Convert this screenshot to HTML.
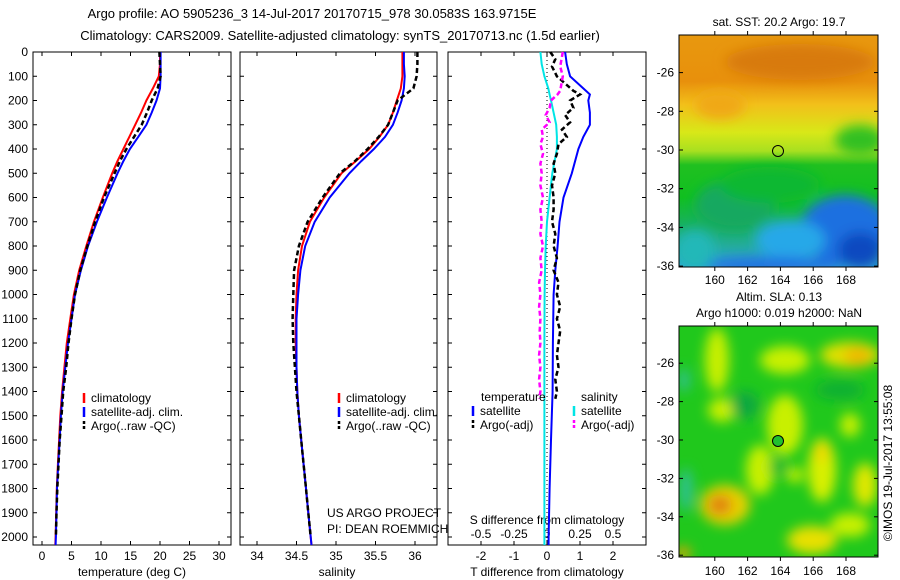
<!DOCTYPE html>
<html><head><meta charset="utf-8"><style>
body{margin:0;background:#fff;}
svg{display:block;font-family:"Liberation Sans",sans-serif;}
text{fill:#000;}
</style></head><body>
<svg id="fig" width="900" height="580" viewBox="0 0 900 580">
<defs>
<filter id="blur1" x="-20%" y="-20%" width="140%" height="140%"><feGaussianBlur stdDeviation="6"/></filter>
<filter id="blur2" x="-30%" y="-30%" width="160%" height="160%"><feGaussianBlur stdDeviation="6"/></filter>
<clipPath id="clipMap1"><rect x="679" y="35" width="199" height="232"/></clipPath>
<clipPath id="clipMap2"><rect x="679" y="326" width="199" height="231"/></clipPath>
<linearGradient id="sstGrad" x1="0" y1="0" x2="0" y2="1">
<stop offset="0" stop-color="#e8980e"/><stop offset="0.2" stop-color="#e8900c"/>
<stop offset="0.3" stop-color="#f2c01a"/><stop offset="0.42" stop-color="#d8e818"/>
<stop offset="0.5" stop-color="#a8e020"/><stop offset="0.56" stop-color="#20c020"/>
<stop offset="0.7" stop-color="#10c020"/><stop offset="0.82" stop-color="#18b060"/>
<stop offset="1" stop-color="#30a8d8"/></linearGradient>
</defs>
<text x="312" y="18" text-anchor="middle" font-size="13">Argo profile: AO 5905236_3 14-Jul-2017 20170715_978 30.0583S 163.9715E</text>
<text x="340" y="40" text-anchor="middle" font-size="13">Climatology: CARS2009. Satellite-adjusted climatology: synTS_20170713.nc (1.5d earlier)</text>
<g id="p1"></g>
<g id="p2"></g>
<g id="p3"></g>

<g>
<g clip-path="url(#clipMap1)">
<rect x="679" y="35" width="199" height="232" fill="url(#sstGrad)"/>
<g filter="url(#blur1)">
<ellipse cx="800" cy="62" rx="75" ry="18" fill="#d87a0a"/>
<ellipse cx="720" cy="105" rx="25" ry="14" fill="#f0a818"/>
<ellipse cx="860" cy="140" rx="25" ry="15" fill="#30c020"/>
<ellipse cx="735" cy="205" rx="40" ry="25" fill="#18a860"/>
<ellipse cx="845" cy="230" rx="45" ry="35" fill="#1c70e0"/>
<ellipse cx="860" cy="250" rx="22" ry="18" fill="#1048c0"/>
<ellipse cx="790" cy="240" rx="35" ry="20" fill="#28a8e8"/>
<ellipse cx="770" cy="265" rx="70" ry="8" fill="#2070e0"/>
<ellipse cx="695" cy="250" rx="20" ry="20" fill="#20b8b8"/>
<ellipse cx="770" cy="185" rx="50" ry="18" fill="#10b830"/>
</g></g>
<rect x="679" y="35" width="199" height="232" fill="none" stroke="#000"/>
<circle cx="778" cy="151" r="5.5" fill="none" stroke="#000"/>
</g>
<text x="779" y="26" text-anchor="middle" font-size="12">sat. SST: 20.2 Argo: 19.7</text>

<g>
<g clip-path="url(#clipMap2)">
<rect x="679" y="326" width="199" height="231" fill="#20c81c"/>
<g filter="url(#blur2)">
<ellipse cx="717" cy="360" rx="12" ry="32" fill="#c8f000"/>
<ellipse cx="785" cy="360" rx="25" ry="14" fill="#c8f000"/>
<ellipse cx="850" cy="355" rx="30" ry="13" fill="#e0e000"/>
<ellipse cx="858" cy="356" rx="14" ry="9" fill="#f0b800"/>
<ellipse cx="785" cy="425" rx="18" ry="30" fill="#c8f000"/>
<ellipse cx="822" cy="470" rx="14" ry="32" fill="#d8f000"/>
<ellipse cx="822" cy="452" rx="8" ry="10" fill="#f0d800"/>
<ellipse cx="725" cy="505" rx="25" ry="20" fill="#e8d000"/>
<ellipse cx="720" cy="505" rx="12" ry="10" fill="#e08010"/>
<ellipse cx="812" cy="540" rx="25" ry="14" fill="#e8e000"/>
<ellipse cx="865" cy="485" rx="12" ry="22" fill="#e0e800"/>
<ellipse cx="722" cy="410" rx="14" ry="12" fill="#c8f000"/>
<ellipse cx="760" cy="470" rx="14" ry="25" fill="#c8f000"/>
<ellipse cx="795" cy="475" rx="8" ry="8" fill="#c8f000"/>
<ellipse cx="850" cy="425" rx="10" ry="12" fill="#c8f000"/>
<ellipse cx="850" cy="525" rx="20" ry="12" fill="#c8f000"/>
<ellipse cx="778" cy="467" rx="9" ry="9" fill="#10b830"/>
<ellipse cx="745" cy="405" rx="14" ry="14" fill="#10a840"/>
<ellipse cx="840" cy="390" rx="25" ry="10" fill="#10b030"/>
<ellipse cx="686" cy="490" rx="6" ry="22" fill="#30c0a0"/>
<ellipse cx="684" cy="380" rx="5" ry="12" fill="#30c0a0"/>
<ellipse cx="683" cy="553" rx="8" ry="6" fill="#f0a000"/>
</g></g>
<rect x="679" y="326" width="199" height="231" fill="none" stroke="#000"/>
<circle cx="778" cy="441" r="5.5" fill="#20c030" stroke="#000"/>
</g>
<text x="779" y="301" text-anchor="middle" font-size="12">Altim. SLA: 0.13</text>
<text x="779" y="317" text-anchor="middle" font-size="12">Argo h1000: 0.019 h2000: NaN</text>
<text x="892" y="463" text-anchor="middle" font-size="12" transform="rotate(-90 892 463)">©IMOS 19-Jul-2017 13:55:08</text>
</svg>
<script>
// ---- data ----
const depths = [0,50,100,150,200,250,300,350,400,450,500,600,700,800,900,1000,1100,1200,1300,1400,1500,1600,1700,1800,1900,2000,2050];
const tempClim = [20.0,20.0,19.8,18.8,17.7,16.8,15.8,14.8,13.8,12.8,11.9,10.3,8.8,7.5,6.3,5.4,4.8,4.2,3.8,3.4,3.1,2.9,2.7,2.5,2.4,2.3,2.25];
const tempSat = [20.1,20.1,20.1,20.0,19.4,18.6,17.7,16.3,14.9,13.8,12.8,11.0,9.3,7.8,6.6,5.6,5.0,4.4,3.95,3.5,3.2,3.0,2.75,2.55,2.45,2.35,2.3];
const tempArgo = [19.9,20.0,20.1,19.6,18.6,17.8,16.9,15.6,14.3,13.2,12.3,10.5,9.0,7.7,6.5,5.6,5.0,4.5,4.1,3.6,3.3,3.0,2.8,2.6,2.45,2.35];
const salClim = [35.84,35.84,35.84,35.82,35.77,35.72,35.66,35.55,35.42,35.25,35.07,34.85,34.67,34.57,34.52,34.50,34.49,34.49,34.50,34.51,34.53,34.56,34.59,34.62,34.65,34.68,34.69];
const salSat = [35.86,35.86,35.87,35.86,35.83,35.78,35.72,35.62,35.48,35.32,35.17,34.92,34.73,34.61,34.55,34.52,34.50,34.50,34.50,34.51,34.53,34.56,34.59,34.62,34.65,34.68,34.69];
const salArgo = [36.03,36.03,36.02,35.98,35.78,35.72,35.66,35.54,35.40,35.24,35.05,34.83,34.64,34.53,34.47,34.46,34.45,34.46,34.48,34.50,34.53,34.56,34.59,34.62,34.65,34.68];
const diffDepths = [0,50,100,150,175,200,250,300,350,400,500,600,700,800,900,1000,1200,1400,1600,1800,2000,2050];
const tSatDiff = [0.55,0.6,0.7,1.1,1.3,1.25,1.3,1.3,1.1,0.95,0.75,0.5,0.38,0.32,0.25,0.2,0.18,0.17,0.12,0.08,0.05,0.05];
const sSatDiff = [-0.05,-0.04,-0.02,0.01,0.02,0.03,0.05,0.07,0.075,0.075,0.04,0.02,0.0,-0.01,-0.015,-0.018,-0.02,-0.02,-0.02,-0.02,-0.02,-0.02];
const argoDiffDepths = [0,30,60,100,130,160,175,200,230,260,290,320,350,380,420,460,500,550,600,650,700,750,800,850,900,950,1000,1050,1100,1150,1200,1250,1300,1350,1400,1430];
const tArgoDiff = [0.1,0.25,0.15,0.3,0.55,0.8,1.0,0.7,0.8,0.55,0.7,0.45,0.6,0.35,0.3,0.2,0.25,0.15,0.2,0.2,0.15,0.25,0.2,0.3,0.2,0.35,0.3,0.4,0.3,0.4,0.35,0.3,0.35,0.25,0.3,0.25];
const sArgoDiff = [0.12,0.11,0.1,0.12,0.11,0.1,0.08,0.03,0.02,-0.01,0.02,-0.04,-0.03,-0.05,-0.03,-0.05,-0.04,-0.05,-0.03,-0.05,-0.04,-0.05,-0.03,-0.05,-0.04,-0.06,-0.05,-0.06,-0.05,-0.055,-0.05,-0.06,-0.05,-0.06,-0.05,-0.06];
const depthTicks = [0,100,200,300,400,500,600,700,800,900,1000,1100,1200,1300,1400,1500,1600,1700,1800,1900,2000];
const tempTicks = [0,5,10,15,20,25,30];
const salTicks = [34,34.5,35,35.5,36];
const tDiffTicks = [-2,-1,0,1,2];
const sDiffTicks = [-0.5,-0.25,0,0.25,0.5];
const sDiffLabels = ['-0.5','-0.25','0','0.25','0.5'];
const lonTicks = [160,162,164,166,168];
const latTicks = [-26,-28,-30,-32,-34,-36];

// ---- scales ----
const NS = 'http://www.w3.org/2000/svg';
const yD = d => 52 + d * 0.2425;
const xT = t => 42 + t * 5.9;
const xS = s => 257 + (s - 34) * 79;
const xDT = v => 547 + v * 33;
const xDS = v => 547 + v * 132;
const TOP = 52, BOT = 545;
function mk(parent, tag, attrs, txt) {
  const e = document.createElementNS(NS, tag);
  for (const k in attrs) e.setAttribute(k, attrs[k]);
  if (txt !== undefined) e.textContent = txt;
  parent.appendChild(e);
  return e;
}
function line(g, xs, ds, xf, color, width, dash, name) {
  const pts = xs.map((v, i) => xf(v).toFixed(1) + ',' + Math.min(yD(ds[i]), BOT).toFixed(1)).join(' ');
  const p = mk(g, 'polyline', {points: pts, fill: 'none', stroke: color, 'stroke-width': width});
  if (dash) p.setAttribute('stroke-dasharray', dash);
  
  
}
function frame(g, x0, x1, xt, xf, showDepth) {
  mk(g, 'rect', {x: x0, y: TOP, width: x1 - x0, height: BOT - TOP, fill: 'none', stroke: '#000'});
  depthTicks.forEach(d => {
    mk(g, 'line', {x1: x0, x2: x0 + 4, y1: yD(d), y2: yD(d), stroke: '#000'});
    mk(g, 'line', {x1: x1, x2: x1 - 4, y1: yD(d), y2: yD(d), stroke: '#000'});
    if (showDepth) {
      const t = mk(g, 'text', {x: 28, y: yD(d) + 4, 'text-anchor': 'end', 'font-size': 12}, String(d));
      
      
    }
  });
  xt.forEach(v => {
    mk(g, 'line', {x1: xf(v), x2: xf(v), y1: BOT, y2: BOT - 4, stroke: '#000'});
    mk(g, 'line', {x1: xf(v), x2: xf(v), y1: TOP, y2: TOP + 4, stroke: '#000'});
  });
}
function legendEntry(g, x, y, color, label, dash) {
  const l = mk(g, 'line', {x1: x, x2: x, y1: y - 9, y2: y + 1, stroke: color, 'stroke-width': 2.5});
  if (dash) l.setAttribute('stroke-dasharray', '3,2');
  const t = mk(g, 'text', {x: x + 7, y: y, 'font-size': 12}, label);
  
  
}

// ---- panel 1 ----
const p1 = document.getElementById('p1');
frame(p1, 33, 231, tempTicks, xT, true);
tempTicks.forEach(v => {
  const t = mk(p1, 'text', {x: xT(v), y: 560, 'text-anchor': 'middle', 'font-size': 12}, String(v));
  
  
});
line(p1, tempClim, depths, xT, '#ff0000', 2, null, 'temperature-climatology-line');
line(p1, tempSat, depths, xT, '#0000ff', 2, null, 'temperature-satellite-line');
line(p1, tempArgo, depths.slice(0, tempArgo.length), xT, '#000', 2.5, '5,3', 'temperature-argo-line');
legendEntry(p1, 84, 402, '#ff0000', 'climatology');
legendEntry(p1, 84, 416, '#0000ff', 'satellite-adj. clim.');
legendEntry(p1, 84, 430, '#000', 'Argo(..raw -QC)', true);
mk(p1, 'text', {x: 132, y: 576, 'text-anchor': 'middle', 'font-size': 12}, 'temperature (deg C)');

// ---- panel 2 ----
const p2 = document.getElementById('p2');
frame(p2, 240, 437, salTicks, xS, false);
salTicks.forEach(v => {
  const t = mk(p2, 'text', {x: xS(v), y: 560, 'text-anchor': 'middle', 'font-size': 12}, String(v));
  
  
});
line(p2, salClim, depths, xS, '#ff0000', 2, null, 'salinity-climatology-line');
line(p2, salSat, depths, xS, '#0000ff', 2, null, 'salinity-satellite-line');
line(p2, salArgo, depths.slice(0, salArgo.length), xS, '#000', 2.5, '5,3', 'salinity-argo-line');
legendEntry(p2, 339, 402, '#ff0000', 'climatology');
legendEntry(p2, 339, 416, '#0000ff', 'satellite-adj. clim.');
legendEntry(p2, 339, 430, '#000', 'Argo(..raw -QC)', true);
mk(p2, 'text', {x: 327, y: 517, 'font-size': 12}, 'US ARGO PROJECT');
mk(p2, 'text', {x: 327, y: 533, 'font-size': 12}, 'PI: DEAN ROEMMICH');
mk(p2, 'text', {x: 337, y: 576, 'text-anchor': 'middle', 'font-size': 12}, 'salinity');

// ---- panel 3 ----
const p3 = document.getElementById('p3');
frame(p3, 448, 646, tDiffTicks, xDT, false);
mk(p3, 'line', {x1: xDT(0), x2: xDT(0), y1: TOP, y2: BOT, stroke: '#000', 'stroke-dasharray': '1,3'});
tDiffTicks.forEach(v => {
  const t = mk(p3, 'text', {x: xDT(v), y: 560, 'text-anchor': 'middle', 'font-size': 12}, String(v));
  
  
});
sDiffTicks.forEach((v, i) => {
  const t = mk(p3, 'text', {x: xDS(v), y: 538, 'text-anchor': 'middle', 'font-size': 12}, sDiffLabels[i]);
  
  
});
mk(p3, 'text', {x: 547, y: 524, 'text-anchor': 'middle', 'font-size': 12}, 'S difference from climatology');
line(p3, sSatDiff, diffDepths, xDS, '#00e5e5', 2, null, 's-satellite-diff-line');
line(p3, tSatDiff, diffDepths, xDT, '#0000ff', 2, null, 't-satellite-diff-line');
line(p3, tArgoDiff, argoDiffDepths, xDT, '#000', 2.5, '5,3', 't-argo-diff-line');
line(p3, sArgoDiff, argoDiffDepths, xDS, '#ff00ff', 2.5, '5,3', 's-argo-diff-line');
mk(p3, 'text', {x: 481, y: 401, 'font-size': 12}, 'temperature');
legendEntry(p3, 473, 415, '#0000ff', 'satellite');
legendEntry(p3, 473, 429, '#000', 'Argo(-adj)', true);
mk(p3, 'text', {x: 581, y: 401, 'font-size': 12}, 'salinity');
legendEntry(p3, 574, 415, '#00e5e5', 'satellite');
legendEntry(p3, 574, 429, '#ff00ff', 'Argo(-adj)', true);
mk(p3, 'text', {x: 547, y: 576, 'text-anchor': 'middle', 'font-size': 12}, 'T difference from climatology');

// ---- map axes ----
const svg = document.getElementById('fig');
const mx = lon => 682 + (lon - 158) * 16.4;
const my1 = lat => 150 + (-30 - lat) * 19.35;
const my2 = lat => 440 + (-30 - lat) * 19.2;
[[my1, 35, 267, 284], [my2, 326, 557, 575]].forEach(([my, y0, y1, ly]) => {
  latTicks.forEach(la => {
    mk(svg, 'line', {x1: 679, x2: 683, y1: my(la), y2: my(la), stroke: '#000'});
    mk(svg, 'line', {x1: 878, x2: 874, y1: my(la), y2: my(la), stroke: '#000'});
    const t = mk(svg, 'text', {x: 674, y: my(la) + 4, 'text-anchor': 'end', 'font-size': 12}, String(la));
    
    
  });
  lonTicks.forEach(lo => {
    mk(svg, 'line', {x1: mx(lo), x2: mx(lo), y1: y0, y2: y0 - 4, stroke: '#000'});
    mk(svg, 'line', {x1: mx(lo), x2: mx(lo), y1: y1, y2: y1 + 4, stroke: '#000'});
    const t = mk(svg, 'text', {x: mx(lo), y: ly, 'text-anchor': 'middle', 'font-size': 12}, String(lo));
    
    
  });
});
</script>
</body></html>
